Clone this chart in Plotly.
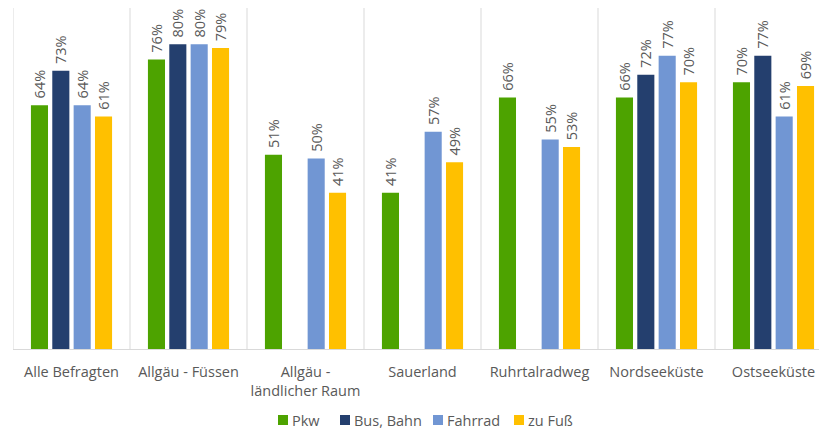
import plotly.graph_objects as go

categories = ["Alle Befragten", "Allgäu - Füssen", "Allgäu -<br>ländlicher Raum", "Sauerland",
              "Ruhrtalradweg", "Nordseeküste", "Ostseeküste"]
pkw = [64, 76, 51, 41, 66, 66, 70]
bus_bahn = [73, 80, None, None, None, 72, 77]
fahrrad = [64, 80, 50, 57, 55, 77, 61]
zu_fuss = [61, 79, 41, 49, 53, 70, 69]
series_names = ["Pkw", "Bus, Bahn", "Fahrrad", "zu Fuß"]
colors = ["#4DA300", "#243F6E", "#7196D3", "#FFC000"]

FS = 14.5
fig = go.Figure()
for name, vals, col in zip(series_names, [pkw, bus_bahn, fahrrad, zu_fuss], colors):
    fig.add_trace(go.Bar(
        name=name, x=categories, y=vals, marker=dict(color=col, line=dict(width=0)),
        text=[f"\u00a0{v}%" if v is not None else "" for v in vals],
        textposition="outside", textangle=-90, cliponaxis=False, constraintext="none",
        textfont=dict(family="Open Sans", size=FS, color="#595959"),
        showlegend=False,
    ))

# page body has an 8px margin: figure is sized/offset to compensate
W = 814.0   # plot width
H = 341.0   # plot height

for i in range(len(categories) + 1):
    fig.add_shape(type="line", xref="x", yref="paper", x0=i - 0.5, x1=i - 0.5, y0=0, y1=1,
                  line=dict(color="#D9D9D9", width=1), layer="below")

leg_y = (341 - 412) / H
sq_x = [278, 340, 433, 514]
for name, col, px in zip(series_names, colors, sq_x):
    x0 = (px - 13) / W
    x1 = (px + 10 - 13) / W
    fig.add_shape(type="rect", xref="paper", yref="paper", x0=x0, x1=x1,
                  y0=leg_y - 5 / H, y1=leg_y + 5 / H, fillcolor=col, line=dict(width=0))
    fig.add_annotation(xref="paper", yref="paper", x=(px + 12 - 13) / W, y=leg_y,
                       text=name, showarrow=False, xanchor="left", yanchor="middle",
                       font=dict(family="Open Sans", size=FS, color="#595959"))

fig.update_layout(
    width=819, height=423,
    margin=dict(l=5, r=0, t=0, b=82, autoexpand=False),
    barmode="group", bargap=0.27, bargroupgap=0.2,
    plot_bgcolor="white", paper_bgcolor="white",
    font=dict(family="Open Sans", size=FS, color="#595959"),
    showlegend=False,
    xaxis=dict(range=[-0.5, -0.5 + W / 117], showgrid=False, showline=True, automargin=False,
               linecolor="#D9D9D9", linewidth=1, ticks="", ticklabelstandoff=10,
               tickfont=dict(size=FS, color="#595959")),
    yaxis=dict(range=[0, 89.5], visible=False, showgrid=False, zeroline=False, automargin=False),
)

fig.write_html("out.html")
